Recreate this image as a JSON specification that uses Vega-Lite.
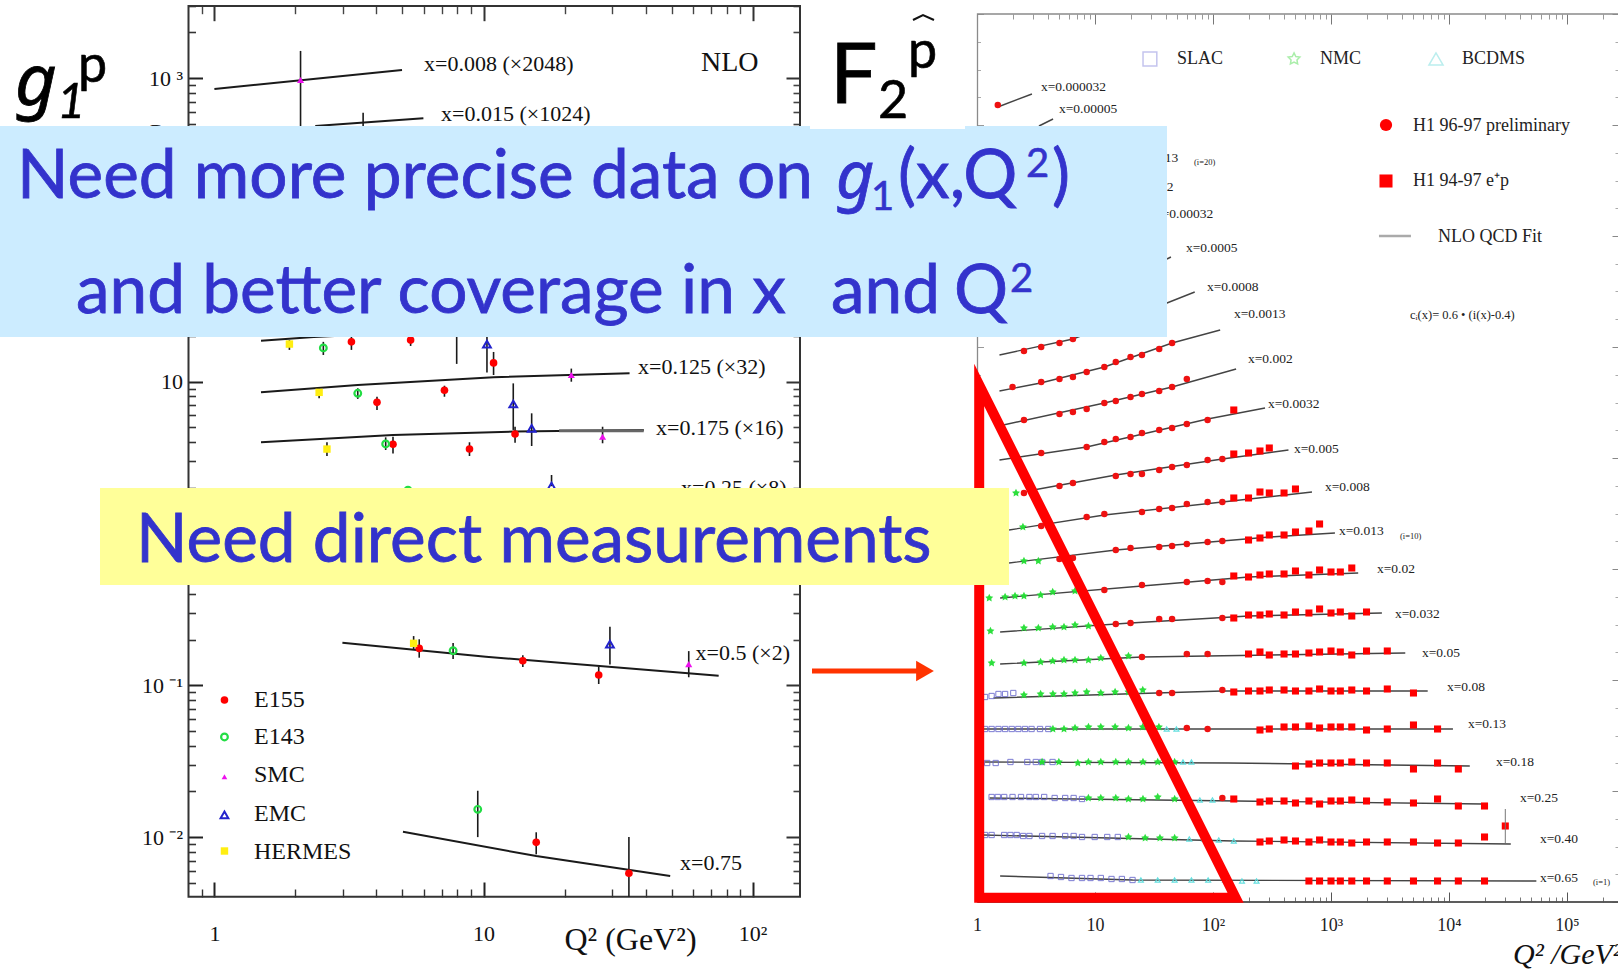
{"$schema":"https://vega.github.io/schema/vega-lite/v6.json","width":1618,"height":969,"padding":0,"autosize":"none","background":"white",
"config":{"view":{"stroke":null},"axis":{"grid":false,"title":null,"domain":false}},
"datasets":{
"leftLines":[
{"c":"0.008","q":1,"v":848},{"c":"0.008","q":4.98,"v":1130},
{"c":"0.015","q":2.37,"v":484},{"c":"0.015","q":5.98,"v":543},
{"c":"0.08","q":1.49,"v":18.6},{"c":"0.08","q":2.34,"v":19.7},{"c":"0.08","q":5,"v":21},
{"c":"0.125","q":1.49,"v":8.51},{"c":"0.125","q":3.41,"v":9.5},{"c":"0.125","q":10.9,"v":10.7},{"c":"0.125","q":34.9,"v":11.36},
{"c":"0.175","q":1.49,"v":3.99},{"c":"0.175","q":4.61,"v":4.45},{"c":"0.175","q":13.1,"v":4.69},{"c":"0.175","q":39.4,"v":4.81},
{"c":"0.5","q":2.99,"v":0.191},{"c":"0.5","q":10.2,"v":0.1543},{"c":"0.5","q":74.8,"v":0.1157},
{"c":"0.75","q":5.02,"v":0.01085},{"c":"0.75","q":15.7,"v":0.0075},{"c":"0.75","q":49.4,"v":0.00554}],
"leftPts":[
{"s":"SMC","q":2.09,"v":971},
{"s":"HERMES","q":1.9,"v":17.7},{"s":"E143","q":2.54,"v":16.7},{"s":"E155","q":3.23,"v":18.3},{"s":"E155","q":5.36,"v":18.8},{"s":"EMC","q":10.3,"v":17.7},{"s":"E155","q":10.9,"v":13.3},
{"s":"SMC","q":21.2,"v":11.07},{"s":"HERMES","q":2.45,"v":8.51},{"s":"E143","q":3.41,"v":8.39},{"s":"E155","q":4.02,"v":7.31},{"s":"E155","q":7.16,"v":8.78},{"s":"EMC","q":12.9,"v":7.13},
{"s":"HERMES","q":2.62,"v":3.6},{"s":"E143","q":4.33,"v":3.89},{"s":"E155","q":4.61,"v":3.87},{"s":"E155","q":8.87,"v":3.6},{"s":"E155","q":13.1,"v":4.52},{"s":"EMC","q":15.1,"v":4.93},{"s":"SMC","q":27.7,"v":4.34},
{"s":"E143","q":5.24,"v":1.93},{"s":"EMC","q":17.9,"v":2.05},
{"s":"HERMES","q":5.5,"v":0.189},{"s":"E155","q":5.77,"v":0.175},{"s":"E143","q":7.71,"v":0.169},{"s":"E155","q":14,"v":0.145},{"s":"E155","q":26.8,"v":0.117},{"s":"EMC","q":29.5,"v":0.187},{"s":"SMC","q":57.9,"v":0.138},
{"s":"E143","q":9.52,"v":0.01524},{"s":"E155","q":15.7,"v":0.00924},{"s":"E155","q":34.7,"v":0.00578},
{"s":"E155","q":1.09,"v":0.08},{"s":"E143","q":1.09,"v":0.0457},{"s":"EMC","q":1.09,"v":0.014},{"s":"HERMES","q":1.09,"v":0.0081}],
"leftBars":[
{"q":2.09,"lo":392,"hi":1510},{"q":3.57,"lo":391,"hi":592},
{"q":1.9,"lo":16.2,"hi":18.8},{"q":2.54,"lo":15,"hi":18.3},{"q":3.23,"lo":16.2,"hi":19.7},{"q":5.36,"lo":17.2,"hi":19.7},{"q":7.95,"lo":13.1,"hi":19.7},{"q":10.3,"lo":11.5,"hi":19.7},{"q":10.9,"lo":11.07,"hi":15.7},
{"q":21.2,"lo":10,"hi":12.2},{"q":2.45,"lo":7.77,"hi":9.05},{"q":3.41,"lo":7.7,"hi":9.05},{"q":4.02,"lo":6.51,"hi":7.96},{"q":7.16,"lo":7.96,"hi":9.41},{"q":12.9,"lo":4.81,"hi":9.75},
{"q":2.62,"lo":3.24,"hi":3.99},{"q":4.33,"lo":3.55,"hi":4.3},{"q":4.61,"lo":3.37,"hi":4.34},{"q":8.87,"lo":3.24,"hi":3.99},{"q":13.1,"lo":3.96,"hi":5.05},{"q":15.1,"lo":3.77,"hi":6.19},{"q":27.7,"lo":3.93,"hi":5.05},
{"q":17.9,"lo":2.05,"hi":2.43},
{"q":5.5,"lo":0.171,"hi":0.211},{"q":5.77,"lo":0.152,"hi":0.201},{"q":7.71,"lo":0.149,"hi":0.19},{"q":14,"lo":0.132,"hi":0.158},{"q":26.8,"lo":0.102,"hi":0.133},{"q":29.5,"lo":0.137,"hi":0.243},{"q":57.9,"lo":0.113,"hi":0.168},
{"q":9.52,"lo":0.01,"hi":0.0202},{"q":15.7,"lo":0.0077,"hi":0.01076},{"q":34.7,"lo":0.00405,"hi":0.01}],
"rightLines":[
{"c":"0.000032","q":1.5,"v":7.95},{"c":"0.000032","q":2.92,"v":8.08},
{"c":"0.00005","q":3.35,"v":7.76},{"c":"0.00005","q":4.41,"v":7.83},
{"c":"0.0005","q":40.7,"v":6.43},{"c":"0.0005","q":44,"v":6.45},
{"c":"0.0008","q":1.55,"v":5.47},{"c":"0.0008","q":6.5,"v":5.63},{"c":"0.0008","q":40.7,"v":5.99},{"c":"0.0008","q":70,"v":6.10},
{"c":"0.0013","q":1.55,"v":5.11},{"c":"0.0013","q":3.46,"v":5.19},{"c":"0.0013","q":12,"v":5.35},{"c":"0.0013","q":45,"v":5.59},{"c":"0.0013","q":115,"v":5.72},
{"c":"0.002","q":1.67,"v":4.77},{"c":"0.002","q":12,"v":4.99},{"c":"0.002","q":45,"v":5.15},{"c":"0.002","q":157,"v":5.33},
{"c":"0.0032","q":1.55,"v":4.42},{"c":"0.0032","q":8.5,"v":4.55},{"c":"0.0032","q":90,"v":4.83},{"c":"0.0032","q":276,"v":4.94},
{"c":"0.005","q":2.7,"v":4.11},{"c":"0.005","q":15,"v":4.27},{"c":"0.005","q":120,"v":4.43},{"c":"0.005","q":436,"v":4.52},
{"c":"0.008","q":1.87,"v":3.72},{"c":"0.008","q":12,"v":3.87},{"c":"0.008","q":120,"v":4.00},{"c":"0.008","q":690,"v":4.10},
{"c":"0.013","q":1.87,"v":3.39},{"c":"0.013","q":15,"v":3.52},{"c":"0.013","q":300,"v":3.65},{"c":"0.013","q":1080,"v":3.69},
{"c":"0.02","q":1.57,"v":3.04},{"c":"0.02","q":25,"v":3.16},{"c":"0.02","q":200,"v":3.25},{"c":"0.02","q":1700,"v":3.29},
{"c":"0.032","q":1.57,"v":2.70},{"c":"0.032","q":20,"v":2.79},{"c":"0.032","q":200,"v":2.86},{"c":"0.032","q":2700,"v":2.89},
{"c":"0.05","q":1.57,"v":2.38},{"c":"0.05","q":25,"v":2.45},{"c":"0.05","q":4260,"v":2.49},
{"c":"0.08","q":1.38,"v":2.04},{"c":"0.08","q":120,"v":2.11},{"c":"0.08","q":6600,"v":2.11},
{"c":"0.13","q":1.13,"v":1.73},{"c":"0.13","q":10800,"v":1.73},
{"c":"0.18","q":1.17,"v":1.40},{"c":"0.18","q":135,"v":1.39},{"c":"0.18","q":15000,"v":1.36},
{"c":"0.25","q":1.28,"v":1.04},{"c":"0.25","q":160,"v":1.01},{"c":"0.25","q":19500,"v":0.98},
{"c":"0.40","q":1.13,"v":0.67},{"c":"0.40","q":150,"v":0.61},{"c":"0.40","q":33400,"v":0.58},
{"c":"0.65","q":1.57,"v":0.26},{"c":"0.65","q":20.8,"v":0.22},{"c":"0.65","q":55000,"v":0.21}],
"h1Circle":[
{"q":1.5,"v":7.97},
{"q":2.5,"v":5.51},{"q":3.5,"v":5.55},{"q":5,"v":5.59},{"q":6.5,"v":5.63},
{"q":2,"v":5.15},{"q":3.5,"v":5.20},{"q":5,"v":5.23},{"q":6.5,"v":5.25},{"q":8.5,"v":5.30},{"q":12,"v":5.35},{"q":15,"v":5.40},{"q":20,"v":5.45},{"q":25,"v":5.47},{"q":35,"v":5.53},{"q":45,"v":5.59},
{"q":2.5,"v":4.82},{"q":5,"v":4.88},{"q":6.5,"v":4.90},{"q":8.5,"v":4.93},{"q":12,"v":4.99},{"q":15,"v":5.01},{"q":20,"v":5.05},{"q":25,"v":5.08},{"q":35,"v":5.11},{"q":45,"v":5.15},{"q":60,"v":5.23},
{"q":3.5,"v":4.49},{"q":8.5,"v":4.55},{"q":12,"v":4.60},{"q":15,"v":4.63},{"q":20,"v":4.65},{"q":25,"v":4.69},{"q":35,"v":4.72},{"q":45,"v":4.74},{"q":60,"v":4.78},{"q":90,"v":4.82},
{"q":2.5,"v":4.09},{"q":5,"v":4.16},{"q":6.5,"v":4.19},{"q":15,"v":4.26},{"q":20,"v":4.28},{"q":25,"v":4.28},{"q":35,"v":4.32},{"q":45,"v":4.35},{"q":60,"v":4.37},{"q":90,"v":4.42},{"q":120,"v":4.43},
{"q":3.5,"v":3.76},{"q":8.5,"v":3.85},{"q":12,"v":3.88},{"q":25,"v":3.90},{"q":35,"v":3.93},{"q":45,"v":3.94},{"q":60,"v":3.98},{"q":90,"v":4.00},{"q":120,"v":4.00},
{"q":5,"v":3.43},{"q":6.5,"v":3.44},{"q":15,"v":3.52},{"q":20,"v":3.54},{"q":35,"v":3.55},{"q":45,"v":3.56},{"q":60,"v":3.58},{"q":90,"v":3.60},{"q":120,"v":3.61},
{"q":12,"v":3.12},{"q":25,"v":3.17},{"q":60,"v":3.20},{"q":90,"v":3.21},{"q":120,"v":3.20},
{"q":15,"v":2.78},{"q":20,"v":2.79},{"q":35,"v":2.83},{"q":45,"v":2.83},{"q":120,"v":2.84},
{"q":25,"v":2.45},{"q":60,"v":2.48},{"q":90,"v":2.48},
{"q":35,"v":2.09},{"q":45,"v":2.09},{"q":120,"v":2.12},
{"q":60,"v":1.74},{"q":90,"v":1.73},
{"q":120,"v":1.04}],
"h1Square":[
{"q":150,"v":4.92},
{"q":150,"v":4.48},{"q":200,"v":4.49},{"q":250,"v":4.51},{"q":300,"v":4.54},
{"q":150,"v":4.04},{"q":200,"v":4.04},{"q":250,"v":4.10},{"q":300,"v":4.09},{"q":400,"v":4.09},{"q":500,"v":4.13},
{"q":200,"v":3.62},{"q":250,"v":3.64},{"q":300,"v":3.67},{"q":400,"v":3.67},{"q":500,"v":3.70},{"q":650,"v":3.71},{"q":800,"v":3.78},
{"q":150,"v":3.26},{"q":200,"v":3.25},{"q":250,"v":3.27},{"q":300,"v":3.28},{"q":400,"v":3.28},{"q":500,"v":3.31},{"q":650,"v":3.27},{"q":800,"v":3.32},{"q":1000,"v":3.30},{"q":1200,"v":3.30},{"q":1500,"v":3.34},
{"q":150,"v":2.84},{"q":200,"v":2.87},{"q":250,"v":2.87},{"q":300,"v":2.88},{"q":400,"v":2.87},{"q":500,"v":2.90},{"q":650,"v":2.89},{"q":800,"v":2.93},{"q":1000,"v":2.89},{"q":1200,"v":2.90},{"q":1500,"v":2.86},{"q":2000,"v":2.90},
{"q":200,"v":2.48},{"q":250,"v":2.50},{"q":300,"v":2.47},{"q":400,"v":2.48},{"q":500,"v":2.48},{"q":650,"v":2.49},{"q":800,"v":2.50},{"q":1000,"v":2.51},{"q":1200,"v":2.50},{"q":1500,"v":2.47},{"q":2000,"v":2.51},{"q":3000,"v":2.51},
{"q":150,"v":2.10},{"q":200,"v":2.11},{"q":250,"v":2.11},{"q":300,"v":2.12},{"q":400,"v":2.12},{"q":500,"v":2.11},{"q":650,"v":2.11},{"q":800,"v":2.13},{"q":1000,"v":2.11},{"q":1200,"v":2.11},{"q":1500,"v":2.12},{"q":2000,"v":2.11},{"q":3000,"v":2.13},{"q":5000,"v":2.09},
{"q":250,"v":1.72},{"q":300,"v":1.73},{"q":400,"v":1.75},{"q":500,"v":1.75},{"q":650,"v":1.76},{"q":800,"v":1.74},{"q":1000,"v":1.75},{"q":1200,"v":1.75},{"q":1500,"v":1.75},{"q":2000,"v":1.72},{"q":3000,"v":1.73},{"q":5000,"v":1.77},{"q":8000,"v":1.73},
{"q":500,"v":1.36},{"q":650,"v":1.38},{"q":800,"v":1.39},{"q":1000,"v":1.39},{"q":1200,"v":1.39},{"q":1500,"v":1.40},{"q":2000,"v":1.39},{"q":3000,"v":1.39},{"q":5000,"v":1.33},{"q":8000,"v":1.39},{"q":12000,"v":1.33},
{"q":150,"v":1.03},{"q":250,"v":1.00},{"q":300,"v":1.01},{"q":400,"v":1.01},{"q":500,"v":0.99},{"q":650,"v":1.01},{"q":800,"v":0.98},{"q":1000,"v":1.01},{"q":1200,"v":1.01},{"q":1500,"v":1.02},{"q":2000,"v":1.01},{"q":3000,"v":1.00},{"q":5000,"v":0.99},{"q":8000,"v":1.03},{"q":12000,"v":0.96},{"q":20000,"v":0.96},
{"q":250,"v":0.60},{"q":300,"v":0.61},{"q":400,"v":0.62},{"q":500,"v":0.61},{"q":650,"v":0.60},{"q":800,"v":0.62},{"q":1000,"v":0.60},{"q":1200,"v":0.60},{"q":1500,"v":0.59},{"q":2000,"v":0.60},{"q":3000,"v":0.60},{"q":5000,"v":0.60},{"q":8000,"v":0.59},{"q":12000,"v":0.59},{"q":20000,"v":0.65},{"q":30000,"v":0.76},
{"q":650,"v":0.21},{"q":800,"v":0.21},{"q":1000,"v":0.21},{"q":1200,"v":0.21},{"q":1500,"v":0.21},{"q":2000,"v":0.21},{"q":3000,"v":0.21},{"q":5000,"v":0.21},{"q":8000,"v":0.21},{"q":12000,"v":0.21},{"q":20000,"v":0.21}],
"nmc":[
{"q":2.14,"v":4.09},{"q":2.45,"v":3.75},{"q":2.5,"v":3.41},{"q":3.31,"v":3.41},
{"q":1.27,"v":3.04},{"q":1.73,"v":3.05},{"q":2.1,"v":3.06},{"q":2.5,"v":3.06},{"q":3.46,"v":3.07},{"q":4.38,"v":3.10},{"q":6.77,"v":3.11},
{"q":1.3,"v":2.71},{"q":2.5,"v":2.74},{"q":3.31,"v":2.74},{"q":4.38,"v":2.75},{"q":5.46,"v":2.75},{"q":6.77,"v":2.77},{"q":8.8,"v":2.76},
{"q":1.33,"v":2.39},{"q":2.5,"v":2.39},{"q":3.46,"v":2.40},{"q":4.38,"v":2.41},{"q":5.46,"v":2.42},{"q":6.77,"v":2.42},{"q":8.8,"v":2.42},{"q":11.2,"v":2.44},{"q":14.8,"v":2.45},{"q":19.2,"v":2.46},
{"q":2.5,"v":2.07},{"q":3.46,"v":2.08},{"q":4.4,"v":2.08},{"q":5.46,"v":2.08},{"q":6.77,"v":2.09},{"q":8.5,"v":2.10},{"q":11.2,"v":2.09},{"q":14.8,"v":2.10},{"q":19.2,"v":2.10},{"q":25.4,"v":2.12},
{"q":4.4,"v":1.73},{"q":5.46,"v":1.73},{"q":6.77,"v":1.74},{"q":8.8,"v":1.75},{"q":11.2,"v":1.75},{"q":14.8,"v":1.75},{"q":19.2,"v":1.74},{"q":25.4,"v":1.75},{"q":34.8,"v":1.75},
{"q":3.56,"v":1.40},{"q":4.94,"v":1.40},{"q":7.15,"v":1.39},{"q":8.79,"v":1.40},{"q":11.2,"v":1.40},{"q":15,"v":1.40},{"q":19.2,"v":1.40},{"q":25.5,"v":1.40},{"q":34,"v":1.40},{"q":47.3,"v":1.40},
{"q":8.79,"v":1.04},{"q":11.2,"v":1.04},{"q":15,"v":1.04},{"q":19.2,"v":1.03},{"q":25.5,"v":1.03},{"q":34,"v":1.05},{"q":47.3,"v":1.03},
{"q":19.2,"v":0.65},{"q":26.6,"v":0.64},{"q":35.5,"v":0.64},{"q":47.3,"v":0.64}],
"slac":[
{"q":1.17,"v":2.05},{"q":1.33,"v":2.06},{"q":1.52,"v":2.08},{"q":1.73,"v":2.08},{"q":2.03,"v":2.09},
{"q":1.17,"v":1.73},{"q":1.33,"v":1.73},{"q":1.52,"v":1.73},{"q":1.73,"v":1.73},{"q":1.97,"v":1.73},{"q":2.24,"v":1.73},{"q":2.55,"v":1.73},{"q":2.9,"v":1.73},{"q":3.42,"v":1.73},{"q":4.02,"v":1.73},
{"q":1.22,"v":1.39},{"q":1.44,"v":1.39},{"q":1.92,"v":1.40},{"q":2.67,"v":1.40},{"q":3.15,"v":1.40},{"q":3.56,"v":1.40},{"q":4.37,"v":1.40},
{"q":1.33,"v":1.05},{"q":1.5,"v":1.05},{"q":1.7,"v":1.05},{"q":2,"v":1.05},{"q":2.36,"v":1.05},{"q":2.78,"v":1.05},{"q":3.15,"v":1.05},{"q":3.71,"v":1.05},{"q":4.55,"v":1.04},{"q":5.59,"v":1.04},{"q":6.59,"v":1.04},{"q":7.76,"v":1.03},
{"q":1.17,"v":0.67},{"q":1.33,"v":0.67},{"q":1.7,"v":0.67},{"q":1.92,"v":0.67},{"q":2.17,"v":0.67},{"q":2.46,"v":0.66},{"q":2.78,"v":0.66},{"q":3.56,"v":0.66},{"q":4.37,"v":0.66},{"q":5.59,"v":0.66},{"q":6.59,"v":0.66},{"q":7.76,"v":0.65},{"q":9.94,"v":0.65},{"q":12.7,"v":0.65},{"q":15.6,"v":0.65},
{"q":4.2,"v":0.26},{"q":5.15,"v":0.25},{"q":6.32,"v":0.24},{"q":7.76,"v":0.24},{"q":9.16,"v":0.24},{"q":11.2,"v":0.24},{"q":13.8,"v":0.23},{"q":16.9,"v":0.23},{"q":20.8,"v":0.22}],
"bcdms":[
{"q":40.5,"v":1.73},{"q":49,"v":1.73},{"q":55.7,"v":1.40},{"q":65.7,"v":1.40},{"q":60.5,"v":1.03},{"q":77.4,"v":1.02},{"q":99,"v":1.02},{"q":63,"v":0.63},{"q":84,"v":0.63},{"q":112,"v":0.62},{"q":150,"v":0.61},
{"q":24.5,"v":0.22},{"q":34,"v":0.22},{"q":47.3,"v":0.22},{"q":65.7,"v":0.22},{"q":91,"v":0.22},{"q":126,"v":0.22},{"q":176,"v":0.21},{"q":234,"v":0.21}]
},
"resolve":{"scale":{"x":"independent","y":"independent"},"axis":{"x":"independent","y":"independent"}},
"layer":[
{"encoding":{"x":{"field":"x","type":"quantitative","axis":null,"scale":{"domain":[0,16.18],"nice":false,"zero":false}},"y":{"field":"y","type":"quantitative","axis":null,"scale":{"domain":[9.69,0],"nice":false,"zero":false}}},
"layer":[
{"data":{"values":[{"x":1.885,"x2":8.0,"y":0.06,"y2":8.967}]},"mark":{"type":"rect","fill":null,"stroke":"#333333","strokeWidth":2},"encoding":{"x2":{"field":"x2"},"y2":{"field":"y2"}}},
{"data":{"values":[{"x":9.775,"x2":16.6,"y":0.14,"y2":9.02}]},"mark":{"type":"rect","fill":null,"stroke":"#8a8a8a","strokeWidth":1.3},"encoding":{"x2":{"field":"x2"},"y2":{"field":"y2"}}},
{"data":{"values":[{"x":9.775,"x2":16.6,"y":9.02}]},"mark":{"type":"rule","stroke":"#444444","strokeWidth":1.4},"encoding":{"x2":{"field":"x2"}}},
{"data":{"values":[{"x":4.24,"y":0.64,"t":"x=0.008 (×2048)"},{"x":4.41,"y":1.14,"t":"x=0.015 (×1024)"},{"x":6.38,"y":3.67,"t":"x=0.125 (×32)"},{"x":6.56,"y":4.28,"t":"x=0.175 (×16)"},{"x":6.81,"y":4.88,"t":"x=0.25 (×8)"},{"x":6.956,"y":6.53,"t":"x=0.5 (×2)"},{"x":6.8,"y":8.63,"t":"x=0.75"}]},"mark":{"type":"text","font":"Liberation Serif","fontSize":22,"align":"left","baseline":"middle","fill":"#111111"},"encoding":{"text":{"field":"t"}}},
{"data":{"values":[{"x":2.54,"y":7.0,"t":"E155"},{"x":2.54,"y":7.37,"t":"E143"},{"x":2.54,"y":7.75,"t":"SMC"},{"x":2.54,"y":8.14,"t":"EMC"},{"x":2.54,"y":8.52,"t":"HERMES"}]},"mark":{"type":"text","font":"Liberation Serif","fontSize":24,"align":"left","baseline":"middle","fill":"#111111"},"encoding":{"text":{"field":"t"}}},
{"data":{"values":[{"x":7.01,"y":0.63,"t":"NLO"}]},"mark":{"type":"text","font":"Liberation Serif","fontSize":28,"align":"left","baseline":"middle","fill":"#111111"},"encoding":{"text":{"field":"t"}}},
{"data":{"values":[{"x":5.645,"y":9.4,"t":"Q² (GeV²)"}]},"mark":{"type":"text","font":"Liberation Serif","fontSize":32,"align":"left","baseline":"middle","fill":"#111111"},"encoding":{"text":{"field":"t"}}},
{"data":{"values":[{"x":15.13,"y":9.55,"t":"Q² /GeV²"}]},"mark":{"type":"text","font":"Liberation Serif","fontStyle":"italic","fontSize":30,"align":"left","baseline":"middle","fill":"#111111"},"encoding":{"text":{"field":"t"}}},
{"data":{"values":[{"x":1.5,"y":1.33,"t":"D"}]},"mark":{"type":"text","font":"Liberation Serif","fontSize":20,"align":"left","baseline":"middle","fill":"#222222"},"encoding":{"text":{"field":"t"}}},
{"data":{"values":[{"x":10.41,"y":0.87,"t":"x=0.000032"},{"x":10.59,"y":1.09,"t":"x=0.00005"},{"x":11.2,"y":1.58,"t":"x=0.00013"},{"x":11.22,"y":1.87,"t":"x=0.0002"},{"x":11.55,"y":2.14,"t":"x=0.00032"},{"x":11.86,"y":2.48,"t":"x=0.0005"},{"x":12.07,"y":2.87,"t":"x=0.0008"},{"x":12.34,"y":3.14,"t":"x=0.0013"},{"x":12.48,"y":3.59,"t":"x=0.002"},{"x":12.68,"y":4.04,"t":"x=0.0032"},{"x":12.94,"y":4.49,"t":"x=0.005"},{"x":13.25,"y":4.87,"t":"x=0.008"},{"x":13.39,"y":5.31,"t":"x=0.013"},{"x":13.77,"y":5.69,"t":"x=0.02"},{"x":13.95,"y":6.14,"t":"x=0.032"},{"x":14.22,"y":6.53,"t":"x=0.05"},{"x":14.47,"y":6.87,"t":"x=0.08"},{"x":14.68,"y":7.24,"t":"x=0.13"},{"x":14.96,"y":7.62,"t":"x=0.18"},{"x":15.2,"y":7.98,"t":"x=0.25"},{"x":15.4,"y":8.39,"t":"x=0.40"},{"x":15.4,"y":8.78,"t":"x=0.65"}]},"mark":{"type":"text","font":"Liberation Serif","fontSize":13.5,"align":"left","baseline":"middle","fill":"#222222"},"encoding":{"text":{"field":"t"}}},
{"data":{"values":[{"x":11.94,"y":1.62,"t":"(i=20)"},{"x":14.0,"y":5.36,"t":"(i=10)"},{"x":15.93,"y":8.82,"t":"(i=1)"}]},"mark":{"type":"text","font":"Liberation Serif","fontSize":8.5,"align":"left","baseline":"middle","fill":"#222222"},"encoding":{"text":{"field":"t"}}},
{"data":{"values":[{"x":11.77,"y":0.59,"t":"SLAC"},{"x":13.2,"y":0.59,"t":"NMC"},{"x":14.62,"y":0.59,"t":"BCDMS"},{"x":14.13,"y":1.26,"t":"H1 96-97 preliminary"},{"x":14.13,"y":1.81,"t":"H1 94-97 e⁺p"},{"x":14.38,"y":2.37,"t":"NLO QCD Fit"}]},"mark":{"type":"text","font":"Liberation Serif","fontSize":18,"align":"left","baseline":"middle","fill":"#222222"},"encoding":{"text":{"field":"t"}}},
{"data":{"values":[{"x":14.1,"y":3.15,"t":"cᵢ(x)= 0.6 • (i(x)-0.4)"}]},"mark":{"type":"text","font":"Liberation Serif","fontSize":12.5,"align":"left","baseline":"middle","fill":"#222222"},"encoding":{"text":{"field":"t"}}}
]},
{"encoding":{"x":{"field":"q","type":"quantitative","axis":null,"scale":{"type":"log","domain":[0.1597,164370],"nice":false}},"y":{"field":"v","type":"quantitative","axis":null,"scale":{"type":"log","domain":[0.0013526,3269.5],"nice":false}}},
"resolve":{"axis":{"x":"independent","y":"independent"}},
"layer":[
{"data":{"name":"leftLines"},"mark":{"type":"line","stroke":"#1a1a1a","strokeWidth":2},
 "encoding":{"detail":{"field":"c"},
  "x":{"field":"q","type":"quantitative","scale":{"type":"log","domain":[0.1597,164370],"nice":false},"axis":{"orient":"bottom","offset":-72,"values":[1,10,100],"tickSize":-15,"tickWidth":2,"tickColor":"#222222","labelFont":"Liberation Serif","labelFontSize":22,"labelColor":"#111111","labelPadding":41,"labelExpr":"datum.value==100?'10²':datum.value==10?'10':'1'"}},
  "y":{"field":"v","type":"quantitative","scale":{"type":"log","domain":[0.0013526,3269.5],"nice":false},"axis":{"orient":"left","offset":-188.5,"values":[0.01,0.1,10,100,1000],"tickSize":-14,"tickWidth":2,"tickColor":"#222222","labelFont":"Liberation Serif","labelFontSize":22,"labelColor":"#111111","labelPadding":20,"labelExpr":"datum.value==1000?'10 ³':datum.value==100?'10 ²':datum.value==10?'10\u2007':datum.value==0.1?'10 ⁻¹':'10 ⁻²'"}}}},
{"data":{"name":"leftBars"},"mark":{"type":"rule","stroke":"#1a1a1a","strokeWidth":1.6},
 "encoding":{"y":{"field":"lo","type":"quantitative","scale":{"type":"log","domain":[0.0013526,3269.5],"nice":false},"axis":{"orient":"left","offset":-188.5,"values":[0.005,0.006,0.007,0.008,0.009,0.02,0.03,0.04,0.05,0.06,0.07,0.08,0.09,0.2,0.3,0.4,0.5,0.6,0.7,0.8,0.9,2,3,4,5,6,7,8,9,20,30,40,50,60,70,80,90,200,300,400,500,600,700,800,900,2000,3000],"tickSize":-7,"tickWidth":1.6,"tickColor":"#333333","labels":false}},"y2":{"field":"hi"},
  "x":{"field":"q","type":"quantitative","scale":{"type":"log","domain":[0.1597,164370],"nice":false},"axis":{"orient":"bottom","offset":-72,"values":[0.9,2,3,4,5,6,7,8,9,20,30,40,50,60,70,80,90],"tickSize":-8,"tickWidth":1.4,"tickColor":"#333333","labels":false}}}},
{"data":{"values":[{"q":19.1,"q2":39.4,"v":4.76}]},"mark":{"type":"rule","stroke":"#666666","strokeWidth":3},"encoding":{"x2":{"field":"q2"}}},
{"data":{"name":"leftPts"},"transform":[{"filter":{"field":"s","equal":"E155"}}],"mark":{"type":"point","shape":"circle","filled":true,"fill":"#ff0000","size":58,"opacity":1},
 "encoding":{"x":{"field":"q","type":"quantitative","scale":{"type":"log","domain":[0.1597,164370],"nice":false},"axis":{"orient":"top","offset":-5.7,"values":[1,10,100],"tickSize":-15,"tickWidth":2,"tickColor":"#333333","labels":false}},
 "y":{"field":"v","type":"quantitative","scale":{"type":"log","domain":[0.0013526,3269.5],"nice":false},"axis":{"orient":"right","offset":-818,"values":[0.01,0.1,1,10,100,1000],"tickSize":-14,"tickWidth":2,"tickColor":"#333333","labels":false}}}},
{"data":{"name":"leftPts"},"transform":[{"filter":{"field":"s","equal":"E143"}}],"mark":{"type":"point","shape":"circle","filled":false,"stroke":"#22dd44","strokeWidth":2.2,"size":45,"opacity":1},
 "encoding":{"x":{"field":"q","type":"quantitative","scale":{"type":"log","domain":[0.1597,164370],"nice":false},"axis":{"orient":"top","offset":-5.7,"values":[0.9,2,3,4,5,6,7,8,9,20,30,40,50,60,70,80,90],"tickSize":-8,"tickWidth":1.4,"tickColor":"#444444","labels":false}},
 "y":{"field":"v","type":"quantitative","scale":{"type":"log","domain":[0.0013526,3269.5],"nice":false},"axis":{"orient":"right","offset":-818,"values":[0.005,0.006,0.007,0.008,0.009,0.02,0.03,0.04,0.05,0.06,0.07,0.08,0.09,0.2,0.3,0.4,0.5,0.6,0.7,0.8,0.9,2,3,4,5,6,7,8,9,20,30,40,50,60,70,80,90,200,300,400,500,600,700,800,900,2000,3000],"tickSize":-7,"tickWidth":1.6,"tickColor":"#444444","labels":false}}}},
{"data":{"name":"leftPts"},"transform":[{"filter":{"field":"s","equal":"SMC"}}],"mark":{"type":"point","shape":"triangle-up","filled":true,"fill":"#ee11ee","size":50,"opacity":1}},
{"data":{"values":[{"q":1.09,"v":0.025}]},"mark":{"type":"point","shape":"triangle-up","filled":true,"fill":"#ee11ee","size":32,"opacity":1}},
{"data":{"name":"leftPts"},"transform":[{"filter":{"field":"s","equal":"EMC"}}],"mark":{"type":"point","shape":"triangle-up","filled":false,"stroke":"#2222cc","strokeWidth":2,"size":60,"opacity":1}},
{"data":{"name":"leftPts"},"transform":[{"filter":{"field":"s","equal":"HERMES"}}],"mark":{"type":"point","shape":"square","filled":true,"fill":"#ffee11","size":55,"opacity":1}}
]},
{"encoding":{"x":{"field":"q","type":"quantitative","axis":null,"scale":{"type":"log","domain":[5.25e-9,270550],"nice":false}},"y":{"field":"v","type":"quantitative","axis":null,"scale":{"domain":[-0.67,9.02],"nice":false,"zero":false}}},
"resolve":{"axis":{"x":"independent","y":"independent"}},
"layer":[
{"data":{"name":"rightLines"},"mark":{"type":"line","stroke":"#444444","strokeWidth":1.4},
 "encoding":{"detail":{"field":"c"},
 "x":{"field":"q","type":"quantitative","scale":{"type":"log","domain":[5.25e-9,270550],"nice":false},"axis":{"orient":"bottom","offset":-67,"values":[1,10,100,1000,10000,100000],"tickSize":-10,"tickWidth":1,"tickColor":"#555555","labelFont":"Liberation Serif","labelFontSize":18,"labelColor":"#222222","labelPadding":24,"labelExpr":"datum.value==1?'1':datum.value==10?'10':datum.value==100?'10²':datum.value==1000?'10³':datum.value==10000?'10⁴':'10⁵'"}},
 "y":{"field":"v","type":"quantitative","scale":{"domain":[-0.67,9.02],"nice":false,"zero":false},"axis":{"orient":"left","offset":-977.5,"values":[0,1.11,2.22,3.33,4.44,5.55,6.66,7.77,8.88],"tickSize":-6,"tickWidth":1,"tickColor":"#999999","labels":false}}}},
{"data":{"name":"slac"},"mark":{"type":"point","shape":"square","filled":false,"stroke":"#6666cc","strokeWidth":1,"size":28,"opacity":0.85},
 "encoding":{"x":{"field":"q","type":"quantitative","scale":{"type":"log","domain":[5.25e-9,270550],"nice":false},"axis":{"orient":"bottom","offset":-67,"values":[2,3,4,5,6,7,8,9,20,30,40,50,60,70,80,90,200,300,400,500,600,700,800,900,2000,3000,4000,5000,6000,7000,8000,9000,20000,30000,40000,50000,60000,70000,80000,90000,200000],"tickSize":-5,"tickWidth":1,"tickColor":"#777777","labels":false}},
 "y":{"field":"v","type":"quantitative","scale":{"domain":[-0.67,9.02],"nice":false,"zero":false},"axis":{"orient":"left","offset":-977.5,"values":[0.2775,0.555,0.8325,1.3875,1.665,1.9425,2.4975,2.775,3.0525,3.6075,3.885,4.1625,4.7175,4.995,5.2725,5.8275,6.105,6.3825,6.9375,7.215,7.4925,8.0475,8.325,8.6025],"tickSize":-3,"tickWidth":1,"tickColor":"#aaaaaa","labels":false}}}},
{"data":{"name":"bcdms"},"mark":{"type":"point","shape":"triangle-up","filled":false,"stroke":"#55dddd","strokeWidth":1.2,"size":24,"opacity":0.9},
 "encoding":{"x":{"field":"q","type":"quantitative","scale":{"type":"log","domain":[5.25e-9,270550],"nice":false},"axis":{"orient":"top","offset":-14,"values":[1,10,100,1000,10000,100000],"tickSize":-10,"tickWidth":1,"tickColor":"#777777","labels":false}},
 "y":{"field":"v","type":"quantitative","scale":{"domain":[-0.67,9.02],"nice":false,"zero":false},"axis":{"orient":"right","offset":2,"values":[0,1.11,2.22,3.33,4.44,5.55,6.66,7.77,8.88],"tickSize":-8,"tickWidth":1,"tickColor":"#888888","labels":false}}}},
{"data":{"name":"nmc"},"mark":{"type":"point","shape":"M0,-1L0.29,-0.4L0.95,-0.31L0.48,0.15L0.59,0.81L0,0.5L-0.59,0.81L-0.48,0.15L-0.95,-0.31L-0.29,-0.4Z","filled":true,"fill":"#22dd33","size":70,"opacity":0.95},
 "encoding":{"x":{"field":"q","type":"quantitative","scale":{"type":"log","domain":[5.25e-9,270550],"nice":false},"axis":{"orient":"top","offset":-14,"values":[2,3,4,5,6,7,8,9,20,30,40,50,60,70,80,90,200,300,400,500,600,700,800,900,2000,3000,4000,5000,6000,7000,8000,9000,20000,30000,40000,50000,60000,70000,80000,90000,200000],"tickSize":-5,"tickWidth":1,"tickColor":"#999999","labels":false}},
 "y":{"field":"v","type":"quantitative","scale":{"domain":[-0.67,9.02],"nice":false,"zero":false},"axis":{"orient":"right","offset":2,"values":[0.2775,0.555,0.8325,1.3875,1.665,1.9425,2.4975,2.775,3.0525,3.6075,3.885,4.1625,4.7175,4.995,5.2725,5.8275,6.105,6.3825,6.9375,7.215,7.4925,8.0475,8.325,8.6025],"tickSize":-5,"tickWidth":1,"tickColor":"#aaaaaa","labels":false}}}},
{"data":{"name":"h1Circle"},"mark":{"type":"point","shape":"circle","filled":true,"fill":"#ee1111","size":42,"opacity":1}},
{"data":{"name":"h1Square"},"mark":{"type":"point","shape":"square","filled":true,"fill":"#ff0000","size":50,"opacity":1}},
{"data":{"values":[{"q":30000,"lo":0.59,"hi":0.93}]},"mark":{"type":"rule","stroke":"#777777","strokeWidth":1},"encoding":{"y":{"field":"lo","type":"quantitative","scale":{"domain":[-0.67,9.02],"nice":false,"zero":false},"axis":null},"y2":{"field":"hi"}}},
{"data":{"values":[{"q":2550,"q2":4760,"v":6.66}]},"mark":{"type":"rule","stroke":"#aaaaaa","strokeWidth":2.5},"encoding":{"x2":{"field":"q2"}}},
{"data":{"values":[{"q":2925,"v":7.77}]},"mark":{"type":"point","shape":"circle","filled":true,"fill":"#ff0000","size":150,"opacity":1}},
{"data":{"values":[{"q":2925,"v":7.21}]},"mark":{"type":"point","shape":"square","filled":true,"fill":"#ff0000","size":170,"opacity":1}},
{"data":{"values":[{"q":29.2,"v":8.43}]},"mark":{"type":"point","shape":"square","filled":false,"stroke":"#c4c4ee","strokeWidth":1.5,"size":190,"opacity":1}},
{"data":{"values":[{"q":486,"v":8.43}]},"mark":{"type":"point","shape":"M0,-1L0.29,-0.4L0.95,-0.31L0.48,0.15L0.59,0.81L0,0.5L-0.59,0.81L-0.48,0.15L-0.95,-0.31L-0.29,-0.4Z","filled":false,"stroke":"#aaeeaa","strokeWidth":1.5,"size":150,"opacity":1}},
{"data":{"values":[{"q":7760,"v":8.43}]},"mark":{"type":"point","shape":"triangle-up","filled":false,"stroke":"#bbeeee","strokeWidth":1.5,"size":200,"opacity":1}}
]},
{"encoding":{"x":{"field":"x","type":"quantitative","axis":null,"scale":{"domain":[0,16.18],"nice":false,"zero":false}},"y":{"field":"y","type":"quantitative","axis":null,"scale":{"domain":[9.69,0],"nice":false,"zero":false}}},
"layer":[
{"data":{"values":[{"o":1,"x":9.792,"y":7},{"o":2,"x":9.792,"y":3.849},{"o":3,"x":12.356,"y":8.977},{"o":4,"x":9.792,"y":8.977},{"o":5,"x":9.792,"y":7}]},"mark":{"type":"line","stroke":"#ff0000","strokeWidth":10,"strokeJoin":"miter","strokeMiterLimit":10,"strokeCap":"butt"},"encoding":{"order":{"field":"o"}}},
{"data":{"values":[{"x":0,"x2":11.67,"y":1.26,"y2":3.37}]},"mark":{"type":"rect","fill":"#CCECFF"},"encoding":{"x2":{"field":"x2"},"y2":{"field":"y2"}}},
{"data":{"values":[{"x":8.1,"x2":9.65,"y":1.26,"y2":1.29}]},"mark":{"type":"rect","fill":"#ffffff"},"encoding":{"x2":{"field":"x2"},"y2":{"field":"y2"}}},
{"data":{"values":[{"x":1.0,"x2":10.09,"y":4.88,"y2":5.85}]},"mark":{"type":"rect","fill":"#FFFF99"},"encoding":{"x2":{"field":"x2"},"y2":{"field":"y2"}}},
{"data":{"values":[{"x":8.12,"x2":9.2,"y":6.71}]},"mark":{"type":"rule","stroke":"#ff3300","strokeWidth":5},"encoding":{"x2":{"field":"x2"}}},
{"data":{"values":[{"x":9.25,"y":6.71}]},"mark":{"type":"point","shape":"triangle-right","filled":true,"fill":"#ff3300","size":420,"opacity":1}},
{"data":{"values":[{"x":9.13,"y":0.2},{"x":9.23,"y":0.15},{"x":9.34,"y":0.2}]},"mark":{"type":"line","stroke":"#111111","strokeWidth":2},"encoding":{}},
{"data":{"values":[{"x":0.17,"y":1.98,"t":"Need more precise data on"},{"x":8.98,"y":1.98,"t":"(x,Q"},{"x":10.52,"y":1.98,"t":")"},{"x":0.76,"y":3.13,"t":"and better coverage in x"},{"x":8.31,"y":3.13,"t":"and"},{"x":9.54,"y":3.13,"t":"Q"},{"x":1.36,"y":5.62,"t":"Need direct measurements"}]},"mark":{"type":"text","font":"Lato","fontSize":67.5,"align":"left","baseline":"alphabetic","fill":"#3333CC","stroke":"#3333CC","strokeWidth":0.8},"encoding":{"text":{"field":"t"}}},
{"data":{"values":[{"x":8.36,"y":1.98,"t":"g"}]},"mark":{"type":"text","font":"Noto Sans","fontStyle":"italic","fontSize":66,"align":"left","baseline":"alphabetic","fill":"#3333CC","stroke":"#3333CC","strokeWidth":0.8},"encoding":{"text":{"field":"t"}}},
{"data":{"values":[{"x":8.71,"y":2.1,"t":"1"},{"x":10.26,"y":1.77,"t":"2"},{"x":10.1,"y":2.92,"t":"2"}]},"mark":{"type":"text","font":"Lato","fontSize":40,"align":"left","baseline":"alphabetic","fill":"#3333CC","stroke":"#3333CC","strokeWidth":0.6},"encoding":{"text":{"field":"t"}}},
{"data":{"values":[{"x":0.15,"y":1.05,"t":"g"}]},"mark":{"type":"text","font":"Noto Sans","fontStyle":"italic","fontSize":72,"align":"left","baseline":"alphabetic","fill":"#000000","stroke":"#000000","strokeWidth":0.8},"encoding":{"text":{"field":"t"}}},
{"data":{"values":[{"x":0.57,"y":1.18,"t":"1"}]},"mark":{"type":"text","font":"Lato","fontStyle":"italic","fontSize":49,"align":"left","baseline":"alphabetic","fill":"#000000","stroke":"#000000","strokeWidth":0.6},"encoding":{"text":{"field":"t"}}},
{"data":{"values":[{"x":0.78,"y":0.82,"t":"p"},{"x":9.08,"y":0.68,"t":"p"},{"x":8.78,"y":1.18,"t":"2"}]},"mark":{"type":"text","font":"Lato","fontSize":52,"align":"left","baseline":"alphabetic","fill":"#000000","stroke":"#000000","strokeWidth":0.6},"encoding":{"text":{"field":"t"}}},
{"data":{"values":[{"x":8.3,"y":1.03,"t":"F"}]},"mark":{"type":"text","font":"Lato","fontSize":84,"align":"left","baseline":"alphabetic","fill":"#000000","stroke":"#000000","strokeWidth":0.8},"encoding":{"text":{"field":"t"}}}
]}
]}
